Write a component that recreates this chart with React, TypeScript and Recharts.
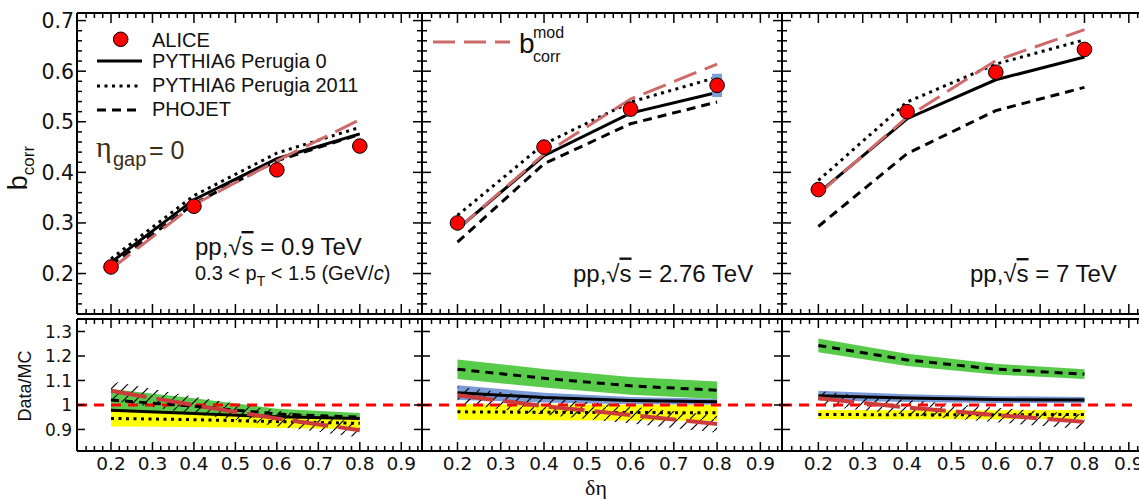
import React from 'react';
import { ComposedChart, Line, Area, Scatter, XAxis, YAxis, ReferenceLine, ErrorBar } from 'recharts';

// ---------------- data ----------------
const dEta = [0.2, 0.4, 0.6, 0.8];

// upper panels: b_corr
const alice09 = [0.213, 0.333, 0.405, 0.452];
const p0_09 = [0.222, 0.346, 0.427, 0.476];
const p11_09 = [0.229, 0.354, 0.438, 0.489];
const phojet09 = [0.216, 0.338, 0.423, 0.475];
const bmod09 = [0.209, 0.336, 0.423, 0.504];
const sys09 = [0, 0, 0, 0];

const alice276 = [0.3, 0.45, 0.525, 0.572];
const p0_276 = [0.288, 0.433, 0.517, 0.558];
const p11_276 = [0.315, 0.456, 0.539, 0.588];
const phojet276 = [0.262, 0.417, 0.496, 0.539];
const bmod276 = [0.288, 0.436, 0.545, 0.614];
const sys276 = [0.006, 0.009, 0.014, 0.023];

const alice7 = [0.366, 0.52, 0.598, 0.643];
const p0_7 = [0.359, 0.506, 0.583, 0.628];
const p11_7 = [0.384, 0.539, 0.614, 0.662];
const phojet7 = [0.293, 0.437, 0.522, 0.568];
const bmod7 = [0.357, 0.509, 0.621, 0.682];
const sys7 = [0, 0, 0, 0];

// lower panels: Data/MC ratios and band half-widths
const rPh09 = [1.02, 0.995, 0.963, 0.95];
const ePh09 = [0.045, 0.032, 0.022, 0.017];
const rP0_09 = [0.978, 0.965, 0.952, 0.945];
const eP0_09 = [0.03, 0.02, 0.015, 0.012];
const rP11_09 = [0.945, 0.94, 0.932, 0.925];
const eP11_09 = [0.033, 0.03, 0.026, 0.023];
const rBm09 = [1.058, 0.999, 0.945, 0.897];
const eBm09 = [0.04, 0.035, 0.032, 0.03];

const rPh276 = [1.146, 1.109, 1.078, 1.06];
const ePh276 = [0.04, 0.038, 0.036, 0.036];
const rP0_276 = [1.05, 1.03, 1.018, 1.013];
const eP0_276 = [0.03, 0.02, 0.015, 0.012];
const rP11_276 = [0.972, 0.97, 0.969, 0.968];
const eP11_276 = [0.032, 0.032, 0.032, 0.032];
const rBm276 = [1.04, 0.995, 0.959, 0.922];
const eBm276 = [0.035, 0.035, 0.035, 0.035];

const rPh7 = [1.243, 1.184, 1.146, 1.126];
const ePh7 = [0.028, 0.025, 0.022, 0.02];
const rP0_7 = [1.038, 1.028, 1.022, 1.02];
const eP0_7 = [0.02, 0.016, 0.014, 0.012];
const rP11_7 = [0.961, 0.96, 0.96, 0.961];
const eP11_7 = [0.018, 0.018, 0.018, 0.018];
const rBm7 = [1.027, 0.99, 0.959, 0.931];
const eBm7 = [0.03, 0.03, 0.03, 0.03];

// ticks
const xMajor = [0.2, 0.3, 0.4, 0.5, 0.6, 0.7, 0.8, 0.9];
const xMajorLabels = ['0.2', '0.3', '0.4', '0.5', '0.6', '0.7', '0.8', '0.9'];
const xMinor = [0.14, 0.16, 0.18, 0.22, 0.24, 0.26, 0.28, 0.32, 0.34, 0.36, 0.38, 0.42, 0.44, 0.46, 0.48, 0.52, 0.54, 0.56, 0.58, 0.62, 0.64, 0.66, 0.68, 0.72, 0.74, 0.76, 0.78, 0.82, 0.84, 0.86, 0.88, 0.92, 0.94];
const yTopMajor = [0.2, 0.3, 0.4, 0.5, 0.6, 0.7];
const yTopLabels = ['0.2', '0.3', '0.4', '0.5', '0.6', '0.7'];
const yTopMinor = [0.14, 0.16, 0.18, 0.22, 0.24, 0.26, 0.28, 0.32, 0.34, 0.36, 0.38, 0.42, 0.44, 0.46, 0.48, 0.52, 0.54, 0.56, 0.58, 0.62, 0.64, 0.66, 0.68];
const yLowMajor = [0.9, 1.0, 1.1, 1.2, 1.3];
const yLowLabels = ['0.9', '1', '1.1', '1.2', '1.3'];

// ---------------- layout ----------------
const xDom: [number, number] = [0.118, 0.95];
const yTopDom: [number, number] = [0.12, 0.715];
const yLowDom: [number, number] = [0.812, 1.351];
const cols = [
  { left: 77, W: 345 },
  { left: 422, W: 360 },
  { left: 782, W: 369 },
];
const rowTop = { top: 13, H: 301 };
const rowLow = { top: 319, H: 132 };
const ML = 80, MR = 30, MT = 20, MB = 50;

const FONT = '"Liberation Sans", Arial, Helvetica, sans-serif';
const TFONT = '"DejaVu Sans", sans-serif';

function InTick(props: any) {
  const { x, y, payload, orient, majors, labels, len, minorLen, fontSize } = props;
  const v = payload.value;
  const idx = majors.findIndex((m: number) => Math.abs(m - v) < 1e-6);
  const isMajor = idx >= 0;
  const L = isMajor ? len : minorLen;
  let x2 = x, y2 = y;
  if (orient === 'bottom') y2 = y - L;
  if (orient === 'top') y2 = y + L;
  if (orient === 'left') x2 = x + L;
  if (orient === 'right') x2 = x - L;
  let label = null;
  if (labels && isMajor) {
    if (orient === 'bottom') {
      label = (
        <text x={x} y={y + 19} textAnchor="middle" fontSize={fontSize} fontFamily={TFONT} fill="#111">
          {labels[idx]}
        </text>
      );
    } else if (orient === 'left') {
      label = (
        <text x={x - props.gap} y={y} dy="0.36em" textAnchor="end" fontSize={fontSize} fontFamily={TFONT} fill="#111">
          {labels[idx]}
        </text>
      );
    }
  }
  return (
    <g>
      <line x1={x} y1={y} x2={x2} y2={y2} stroke="#000" strokeWidth={1.5} />
      {label}
    </g>
  );
}

const axisLine = { stroke: '#000', strokeWidth: 2 };

function frameAxes(yDom: [number, number], yMajor: number[], yMinor: number[], yLabels: string[] | null, yFont: number, yGap: number, xLabels: string[] | null, xLen: number, yLen: number) {
  const xt = [...xMajor, ...xMinor];
  const yt = [...yMajor, ...yMinor];
  return [
    <XAxis key="xb" xAxisId="b" dataKey="x" type="number" domain={xDom} allowDataOverflow ticks={xt} interval={0}
      tickSize={0} tickMargin={0} height={1} axisLine={axisLine} tickLine={false}
      tick={(p: any) => <InTick {...p} orient="bottom" majors={xMajor} labels={xLabels} len={xLen} minorLen={5} fontSize={18.5} />} />,
    <XAxis key="xt" xAxisId="t" orientation="top" dataKey="x" type="number" domain={xDom} allowDataOverflow ticks={xt} interval={0}
      tickSize={0} tickMargin={0} height={1} axisLine={axisLine} tickLine={false}
      tick={(p: any) => <InTick {...p} orient="top" majors={xMajor} labels={null} len={xLen} minorLen={5} />} />,
    <YAxis key="yl" yAxisId="l" type="number" domain={yDom} allowDataOverflow ticks={yt} interval={0}
      tickSize={0} tickMargin={0} width={1} axisLine={axisLine} tickLine={false}
      tick={(p: any) => <InTick {...p} orient="left" majors={yMajor} labels={yLabels} len={yLen} minorLen={5} fontSize={yFont} gap={yGap} />} />,
    <YAxis key="yr" yAxisId="r" orientation="right" type="number" domain={yDom} allowDataOverflow ticks={yt} interval={0}
      tickSize={0} tickMargin={0} width={1} axisLine={axisLine} tickLine={false}
      tick={(p: any) => <InTick {...p} orient="right" majors={yMajor} labels={null} len={yLen} minorLen={5} />} />,
  ];
}

const RED_TOP = '#cf6a6a';
const RED_LOW = '#cc3b3b';
const chartMargin = { top: MT - 1, right: MR - 1, bottom: MB - 1, left: ML - 1 };

function TopPanel({ k, alice, p0, p11, ph, bm, sys }: any) {
  const rows = dEta.map((x, i) => ({ x, alice: alice[i], p0: p0[i], p11: p11[i], ph: ph[i], bm: bm[i], sys: sys[i] }));
  const c = cols[k];
  const ax = { xAxisId: 'b', yAxisId: 'l' };
  return (
    <div style={{ position: 'absolute', left: c.left - ML, top: rowTop.top - MT }}>
      <ComposedChart width={c.W + ML + MR} height={rowTop.H + MT + MB} data={rows} margin={chartMargin}>
        {frameAxes(yTopDom, yTopMajor, yTopMinor, k === 0 ? yTopLabels : null, 20.5, 3, null, 10, 9)}
        <Line {...ax} dataKey="ph" type="linear" stroke="#000" strokeWidth={3} strokeDasharray="9 6" dot={false} activeDot={false} isAnimationActive={false} />
        <Line {...ax} dataKey="p11" type="linear" stroke="#000" strokeWidth={3} strokeDasharray="3 4.5" dot={false} activeDot={false} isAnimationActive={false} />
        <Line {...ax} dataKey="p0" type="linear" stroke="#000" strokeWidth={3} dot={false} activeDot={false} isAnimationActive={false} />
        <Scatter {...ax} dataKey="alice" isAnimationActive={false}
          shape={(p: any) => <circle cx={p.cx} cy={p.cy} r={7.3} fill="#ff0000" stroke="#000" strokeWidth={1} />}>
          <ErrorBar dataKey="sys" direction="y" width={0} stroke="#7d9fd5" strokeWidth={10} />
        </Scatter>
        <Line {...ax} dataKey="bm" type="linear" stroke={RED_TOP} strokeWidth={3} strokeDasharray="24 9" dot={false} activeDot={false} isAnimationActive={false} />
      </ComposedChart>
    </div>
  );
}

function LowPanel({ k, ph, phE, p0, p0E, p11, p11E, bm, bmE }: any) {
  const rows = dEta.map((x, i) => ({
    x,
    ph: ph[i], phB: [ph[i] - phE[i], ph[i] + phE[i]],
    p0: p0[i], p0B: [p0[i] - p0E[i], p0[i] + p0E[i]],
    p11: p11[i], p11B: [p11[i] - p11E[i], p11[i] + p11E[i]],
    bm: bm[i], bmB: [bm[i] - bmE[i], bm[i] + bmE[i]],
  }));
  const c = cols[k];
  const ax = { xAxisId: 'b', yAxisId: 'l' };
  const hid = `hatch${k}`;
  return (
    <div style={{ position: 'absolute', left: c.left - ML, top: rowLow.top - MT }}>
      <ComposedChart width={c.W + ML + MR} height={rowLow.H + MT + MB} data={rows} margin={chartMargin}>
        <defs>
          <pattern id={hid} patternUnits="userSpaceOnUse" width={12} height={12}>
            <path d="M0,12 L12,0" stroke="#000" strokeWidth={1.2} />
          </pattern>
        </defs>
        {frameAxes(yLowDom, yLowMajor, [], k === 0 ? yLowLabels : null, 17, 5, xMajorLabels, 9, 8)}
        <Area {...ax} dataKey="p0B" type="linear" stroke="none" fill="#7b9bd6" fillOpacity={1} isAnimationActive={false} />
        <Area {...ax} dataKey="phB" type="linear" stroke="none" fill="#58cc4a" fillOpacity={1} isAnimationActive={false} />
        <Area {...ax} dataKey="p11B" type="linear" stroke="none" fill="#ffff00" fillOpacity={1} isAnimationActive={false} />
        <Area {...ax} dataKey="bmB" type="linear" stroke="none" fill={`url(#${hid})`} fillOpacity={1} isAnimationActive={false} />
        <ReferenceLine {...ax} y={1} stroke="#ff0000" strokeWidth={3} strokeDasharray="10 7" />
        <Line {...ax} dataKey="ph" type="linear" stroke="#000" strokeWidth={3} strokeDasharray="8 6" dot={false} activeDot={false} isAnimationActive={false} />
        <Line {...ax} dataKey="p0" type="linear" stroke="#000" strokeWidth={3} dot={false} activeDot={false} isAnimationActive={false} />
        <Line {...ax} dataKey="p11" type="linear" stroke="#000" strokeWidth={3} strokeDasharray="3 4.5" dot={false} activeDot={false} isAnimationActive={false} />
        <Line {...ax} dataKey="bm" type="linear" stroke={RED_LOW} strokeWidth={4} strokeDasharray="36 10" dot={false} activeDot={false} isAnimationActive={false} />
      </ComposedChart>
    </div>
  );
}

function Overlay() {
  return (
    <svg width={1139} height={499} style={{ position: 'absolute', left: 0, top: 0, pointerEvents: 'none' }}>
      {/* legend panel 1 */}
      <circle cx={120.7} cy={39.3} r={7.3} fill="#ff0000" stroke="#000" strokeWidth={1} />
      <text x={152} y={46.5} fontSize={20} fontFamily={FONT} fill="#111">ALICE</text>
      <line x1={97} y1={61} x2={142} y2={61} stroke="#000" strokeWidth={3} />
      <text x={152} y={67.5} fontSize={20} fontFamily={FONT} fill="#111">PYTHIA6 Perugia 0</text>
      <line x1={97} y1={86} x2={142} y2={86} stroke="#000" strokeWidth={3} strokeDasharray="3 4.5" />
      <text x={152} y={92} fontSize={20} fontFamily={FONT} fill="#111">PYTHIA6 Perugia 2011</text>
      <line x1={97} y1={110} x2={142} y2={110} stroke="#000" strokeWidth={3} strokeDasharray="9 6" />
      <text x={152} y={115.5} fontSize={20} fontFamily={FONT} fill="#111">PHOJET</text>

      {/* eta gap */}
      <text x={96} y={157} fontSize={30} fontFamily='"Liberation Serif", serif' fill="#3c2d14">η</text>
      <text x={113} y={166} fontSize={20} fontFamily={FONT} fill="#3c2d14">gap</text>
      <text x={149} y={158.5} fontSize={25} fontFamily={FONT} fill="#3c2d14">= 0</text>

      {/* energy labels */}
      <text x={195} y={255} fontSize={24} fontFamily={FONT} fill="#111">
        pp,√<tspan style={{ textDecoration: 'overline' }}>s</tspan> = 0.9 TeV
      </text>
      <text x={195} y={280} fontSize={20} fontFamily={FONT} fill="#111">
        0.3 &lt; p<tspan fontSize={14} dy={6}>T</tspan><tspan dy={-6}> &lt; 1.5  (GeV/</tspan><tspan fontStyle="italic">c</tspan>)
      </text>
      <text x={573} y={281.5} fontSize={24} fontFamily={FONT} fill="#111">
        pp,√<tspan style={{ textDecoration: 'overline' }}>s</tspan> = 2.76 TeV
      </text>
      <text x={970} y={282} fontSize={24} fontFamily={FONT} fill="#111">
        pp,√<tspan style={{ textDecoration: 'overline' }}>s</tspan> = 7 TeV
      </text>

      {/* b_corr^mod legend, panel 2 */}
      <line x1={433} y1={42} x2={510} y2={42} stroke={RED_TOP} strokeWidth={3} strokeDasharray="22 9" />
      <text x={519} y={53} fontSize={28} fontFamily={FONT} fill="#111">b</text>
      <text x={533} y={38} fontSize={16} fontFamily={FONT} fill="#111">mod</text>
      <text x={533} y={61.5} fontSize={16} fontFamily={FONT} fill="#111">corr</text>

      {/* axis titles */}
      <text transform="translate(27,168) rotate(-90)" textAnchor="middle" fontSize={27} fontFamily={FONT} fill="#111">
        b<tspan fontSize={17} dy={7}>corr</tspan>
      </text>
      <text transform="translate(31,386) rotate(-90)" textAnchor="middle" fontSize={18} fontFamily={FONT} fill="#111">Data/MC</text>
      <text x={596} y={494.6} textAnchor="middle" fontSize={22} fontFamily='"Liberation Serif", serif' fill="#111">δη</text>
    </svg>
  );
}

export default function App() {
  return (
    <div style={{ position: 'absolute', left: 0, top: 0, width: 1139, height: 499, overflow: 'hidden', background: '#fff' }}>
      <TopPanel k={0} alice={alice09} p0={p0_09} p11={p11_09} ph={phojet09} bm={bmod09} sys={sys09} />
      <TopPanel k={1} alice={alice276} p0={p0_276} p11={p11_276} ph={phojet276} bm={bmod276} sys={sys276} />
      <TopPanel k={2} alice={alice7} p0={p0_7} p11={p11_7} ph={phojet7} bm={bmod7} sys={sys7} />
      <LowPanel k={0} ph={rPh09} phE={ePh09} p0={rP0_09} p0E={eP0_09} p11={rP11_09} p11E={eP11_09} bm={rBm09} bmE={eBm09} />
      <LowPanel k={1} ph={rPh276} phE={ePh276} p0={rP0_276} p0E={eP0_276} p11={rP11_276} p11E={eP11_276} bm={rBm276} bmE={eBm276} />
      <LowPanel k={2} ph={rPh7} phE={ePh7} p0={rP0_7} p0E={eP0_7} p11={rP11_7} p11E={eP11_7} bm={rBm7} bmE={eBm7} />
      <Overlay />
    </div>
  );
}
